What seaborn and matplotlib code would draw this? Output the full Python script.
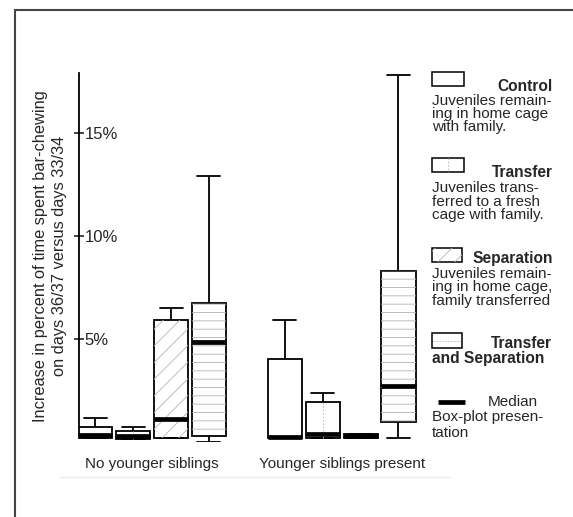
import numpy as np
import pandas as pd
import matplotlib
matplotlib.use("Agg")
import matplotlib.pyplot as plt
import seaborn as sns
from matplotlib.patches import Rectangle, PathPatch
from matplotlib.lines import Line2D
from matplotlib.colors import to_hex

# ---------------- data (five-number summaries, in %) ----
groups = ["No younger siblings", "Younger siblings present"]
treatments = ["Control", "Transfer", "Separation", "Transfer and Separation"]
# each entry: [min, q1, median, q3, max] for (no younger siblings, younger siblings present)
control_vals = [[0.2, 0.2, 0.35, 0.73, 1.17], [0.2, 0.2, 0.26, 4.03, 5.92]]
transfer_vals = [[0.15, 0.15, 0.29, 0.55, 0.74], [0.2, 0.2, 0.37, 1.96, 2.38]]
separation_vals = [[0.2, 0.2, 1.1, 5.9, 6.5], [0.2, 0.2, 0.3, 0.4, 0.4]]
trans_sep_vals = [[0.0, 0.3, 4.87, 6.75, 12.9], [0.2, 0.99, 2.73, 8.3, 17.8]]
ytick_vals = [5, 10, 15]
ytick_labels = ["5%", "10%", "15%"]

rows = []
for tr, vals in zip(treatments, [control_vals, transfer_vals, separation_vals, trans_sep_vals]):
    for g, v in zip(groups, vals):
        for x in v:
            rows.append({"group": g, "treatment": tr, "value": x})
df = pd.DataFrame(rows)

# ---------------- style ----------------
sns.set_style("white")
plt.rcParams["font.family"] = ["Liberation Sans", "DejaVu Sans"]
plt.rcParams["hatch.linewidth"] = 0.6

W, H = 573, 517
fig = plt.figure(figsize=(W / 100, H / 100), dpi=100)

def fx(x):
    return x / W

def fy(y):
    return 1 - y / H

ax = fig.add_axes([fx(79), fy(442), fx(425) - fx(79), fy(73) - fy(442)])

HATCH_C = "#b4b4b4"
tag_colors = ["#ff0000", "#00ff00", "#0000ff", "#ffff00"]
sns.boxplot(data=df, x="group", y="value", hue="treatment", order=groups,
            hue_order=treatments, palette=tag_colors, saturation=1, whis=(0, 100),
            width=0.8, gap=0.1, linecolor="black", linewidth=1.3,
            showfliers=False, legend=False,
            medianprops=dict(linewidth=3.4, color="black", solid_capstyle="butt"),
            ax=ax)

# widen whisker caps
for ln in list(ax.lines):
    xd = np.asarray(ln.get_xdata(), dtype=float)
    yd = np.asarray(ln.get_ydata(), dtype=float)
    if len(xd) == 2 and yd[0] == yd[1] and ln.get_linewidth() < 2:
        c = xd.mean()
        ln.set_xdata(c + (xd - c) * 1.35)

hatch_map = {"#ff0000": None, "#00ff00": "center", "#0000ff": "//", "#ffff00": "--"}
for p in list(ax.patches):
    key = to_hex(p.get_facecolor())
    p.set_facecolor("white")
    kind = hatch_map.get(key)
    if kind in ("//", "--"):
        ov = PathPatch(p.get_path(), transform=p.get_transform(), facecolor="none",
                       edgecolor=HATCH_C, linewidth=0, hatch=kind,
                       zorder=p.get_zorder() + 0.01)
        ax.add_patch(ov)
    elif kind == "center":
        tr = p.get_transform() - ax.transData
        v = tr.transform(p.get_path().vertices)
        xc = (v[:, 0].min() + v[:, 0].max()) / 2
        ax.plot([xc, xc], [v[:, 1].min(), v[:, 1].max()], ls=(0, (1.5, 2)),
                color=HATCH_C, lw=0.7, zorder=p.get_zorder() + 0.01)

ax.set_xlim(-0.386, 1.44)
ax.set_ylim(0, 17.9)
for s in ["top", "right", "bottom"]:
    ax.spines[s].set_visible(False)
ax.spines["left"].set_bounds(0.2, 17.9)
ax.spines["left"].set_linewidth(1.3)
ax.spines["left"].set_color("black")

ax.set_yticks(ytick_vals)
ax.set_yticklabels(ytick_labels)
ax.tick_params(axis="y", direction="inout", length=7, width=1.2, pad=-7.5,
               labelsize=12, left=True)
for lab in ax.get_yticklabels():
    lab.set_horizontalalignment("left")
ax.tick_params(axis="x", length=0, labelsize=11, pad=11)
ax.set_xlabel("")
ax.set_ylabel("")

# y label (two lines)
fig.text(fx(50), fy(256), "Increase in percent of time spent bar-chewing\non days 36/37 versus days 33/34",
         rotation=90, ha="center", va="center", multialignment="center",
         fontsize=11.8, linespacing=1.35)

# ---------------- legend (manual) ----------------
body_fs = 11
bold_fs = 11.2

def rect(x0, y0, x1, y1, hatch=None):
    r = Rectangle((fx(x0), fy(y1)), fx(x1) - fx(x0), fy(y0) - fy(y1),
                  transform=fig.transFigure, facecolor="white", edgecolor="black",
                  linewidth=1.1)
    fig.add_artist(r)
    if hatch:
        r2 = Rectangle((fx(x0), fy(y1)), fx(x1) - fx(x0), fy(y0) - fy(y1),
                       transform=fig.transFigure, facecolor="none", edgecolor=HATCH_C,
                       linewidth=0, hatch=hatch)
        fig.add_artist(r2)

def lines(x, ys, texts):
    for y, t in zip(ys, texts):
        fig.text(fx(x), fy(y), t, ha="left", va="baseline", fontsize=body_fs)

def head(x, y, t, ha="right"):
    fig.text(fx(x), fy(y), t, ha=ha, va="baseline", fontsize=bold_fs, fontweight="bold")

# Control
rect(432, 72, 464, 86)
head(553, 91, "Control")
lines(432, [105, 118, 131], ["Juveniles remain-", "ing in home cage", "with family."])
# Transfer
rect(432, 158, 464, 172)
fig.add_artist(Line2D([fx(448), fx(448)], [fy(158), fy(172)], transform=fig.transFigure,
                      color=HATCH_C, lw=0.7, ls=(0, (1.5, 2))))
head(553, 177, "Transfer")
lines(432, [192, 205.5, 219], ["Juveniles trans-", "ferred to a fresh", "cage with family."])
# Separation
rect(432, 248, 462, 262, hatch="//")
head(553, 263, "Separation")
lines(432, [278, 291.5, 305], ["Juveniles remain-", "ing in home cage,", "family transferred"])
# Transfer and Separation
rect(432, 333, 462, 348)
fig.add_artist(Line2D([fx(433), fx(461)], [fy(340.5), fy(340.5)], transform=fig.transFigure,
                      color=HATCH_C, lw=0.7, ls=(0, (1.5, 1.5))))
head(552, 347.5, "Transfer")
head(432, 363.5, "and Separation", ha="left")
# Median
fig.add_artist(Line2D([fx(438), fx(465)], [fy(402), fy(402)], transform=fig.transFigure,
                      color="black", lw=3.4, solid_capstyle="butt"))
fig.text(fx(538), fy(406), "Median", ha="right", va="baseline", fontsize=body_fs)
lines(432, [421, 437], ["Box-plot presen-", "tation"])

# frame of the scanned figure and faint rule under labels
fig.add_artist(Line2D([fx(15), fx(15)], [fy(9.5), 0], transform=fig.transFigure, color="#444444", lw=1.5))
fig.add_artist(Line2D([fx(15), 1], [fy(9.5), fy(9.5)], transform=fig.transFigure, color="#444444", lw=1.5))
fig.add_artist(Line2D([fx(60), fx(450)], [fy(477), fy(477)], transform=fig.transFigure, color="#ececec", lw=1))

fig.savefig("out.png", dpi=100)
